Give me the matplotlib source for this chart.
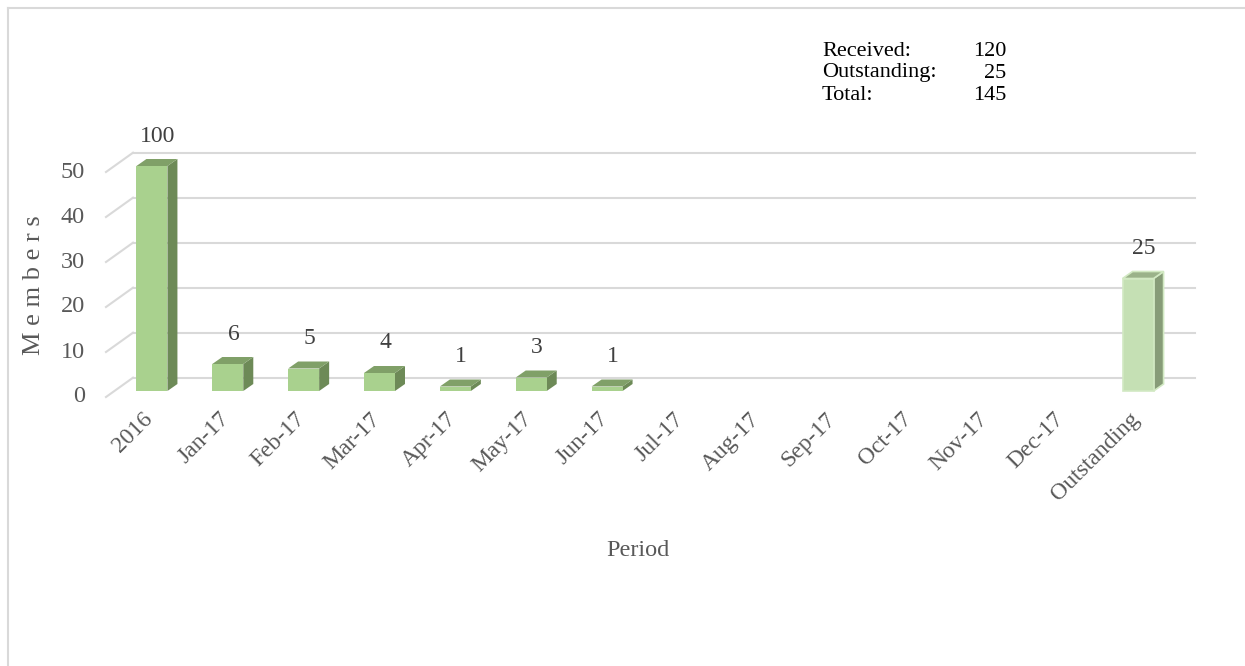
import matplotlib
matplotlib.use('Agg')
import matplotlib.pyplot as plt
from matplotlib.patches import Polygon, Rectangle
from matplotlib.lines import Line2D

# ---------------- data ----------------
categories = ['2016', 'Jan-17', 'Feb-17', 'Mar-17', 'Apr-17', 'May-17', 'Jun-17',
              'Jul-17', 'Aug-17', 'Sep-17', 'Oct-17', 'Nov-17', 'Dec-17', 'Outstanding']
values = [100, 6, 5, 4, 1, 3, 1, 0, 0, 0, 0, 0, 0, 25]
y_ticks = [0, 10, 20, 30, 40, 50]
y_max = 50
summary_labels = ['Received:', 'Outstanding:', 'Total:']

received = sum(values[:-1])
outstanding = values[-1]
summary_values = [received, outstanding, received + outstanding]

# ---------------- style ----------------
plt.rcParams['font.family'] = ['Liberation Serif', 'DejaVu Serif']
W, H = 1245, 666
fig = plt.figure(figsize=(W / 100, H / 100), dpi=100)

ax = fig.add_axes([114 / W, 1 - 391 / H, (1176 - 114) / W, (391 - 166) / H])
n = len(categories)
ax.set_xlim(-0.5, n - 0.5)
ax.set_ylim(0, y_max)
ax.axis('off')

# pixels per data unit
ppx = ax.get_position().width * W / n
ppy = ax.get_position().height * H / y_max


def dx(p):
    return p / ppx


def dy(p):
    return p / ppy


grid_c = '#d9d9d9'
back = (19, 13.3)     # back wall offset from bar front plane (px right, px up)
front = (-8, -6)      # floor front offset from bar front plane
x_left = -0.5
x_right = n - 0.5

for v in y_ticks:
    # back wall gridline
    ax.add_line(Line2D([x_left + dx(back[0]), x_right + dx(back[0])],
                       [v + dy(back[1]), v + dy(back[1])],
                       color=grid_c, lw=1.5, zorder=1, clip_on=False))
    # side wall diagonal
    ax.add_line(Line2D([x_left + dx(front[0]), x_left + dx(back[0])],
                       [v + dy(front[1]), v + dy(back[1])],
                       color=grid_c, lw=1.5, zorder=1, clip_on=False))
    # tick label
    ax.text(x_left + dx(front[0]) - dx(21), v + dy(front[1]), str(v),
            ha='right', va='center', fontsize=17.5, color='#595959', clip_on=False)

# ---------------- bars ----------------
bw = dx(31)
ddx, ddy = dx(10), dy(7)
for i, v in enumerate(values):
    h = min(v, y_max)
    if h <= 0:
        continue
    last = (i == n - 1)
    fc = '#c5e0b4' if last else '#a9d18e'
    sc = '#879c78' if last else '#6d8a57'
    tc = '#9bb28a' if last else '#80a068'
    ec = '#d2e9c3' if last else 'none'
    lw = 1.2 if last else 0
    x0, x1 = i - bw / 2, i + bw / 2
    ax.add_patch(Polygon([(x1, 0), (x1 + ddx, ddy), (x1 + ddx, h + ddy), (x1, h)],
                         closed=True, fc=sc, ec=ec, lw=lw, zorder=3, clip_on=False))
    ax.add_patch(Polygon([(x0, h), (x1, h), (x1 + ddx, h + ddy), (x0 + ddx, h + ddy)],
                         closed=True, fc=tc, ec=ec, lw=lw, zorder=3, clip_on=False))
    ax.add_patch(Rectangle((x0, 0), bw, h, fc=fc, ec=ec, lw=lw, zorder=4, clip_on=False))
    ax.text(i + dx(6), h + dy(30), str(v), ha='center', va='center',
            fontsize=17, color='#404040', zorder=5, clip_on=False)

# ---------------- category labels ----------------
for i, c in enumerate(categories):
    ax.text(i - dx(2), -dy(25), c, rotation=45, rotation_mode='anchor',
            ha='right', va='center', fontsize=17, color='#595959', clip_on=False)

# ---------------- axis titles ----------------
fig.text(638 / W, 1 - 550 / H, 'Period', ha='center', va='center',
         fontsize=17.5, color='#595959')
fig.text(34 / W, 1 - 285 / H, 'M e m b e r s', ha='center', va='center',
         rotation=90, fontsize=19, color='#595959')

# ---------------- summary text ----------------
rows_y = [52, 73, 95]
for lab, val, yy in zip(summary_labels, summary_values, rows_y):
    fig.text(822 / W, 1 - yy / H, lab, ha='left', va='center', fontsize=16, color='black')
    fig.text(1006 / W, 1 - yy / H, str(val), ha='right', va='center', fontsize=16, color='black')

# ---------------- chart border ----------------
fig.add_artist(Line2D([7.5 / W, 7.5 / W], [0, 1 - 7.5 / H], color=grid_c, lw=1.5,
                      transform=fig.transFigure))
fig.add_artist(Line2D([7.5 / W, 1], [1 - 7.5 / H, 1 - 7.5 / H], color=grid_c, lw=1.5,
                      transform=fig.transFigure))

fig.savefig('out.png', dpi=100, facecolor='white')
